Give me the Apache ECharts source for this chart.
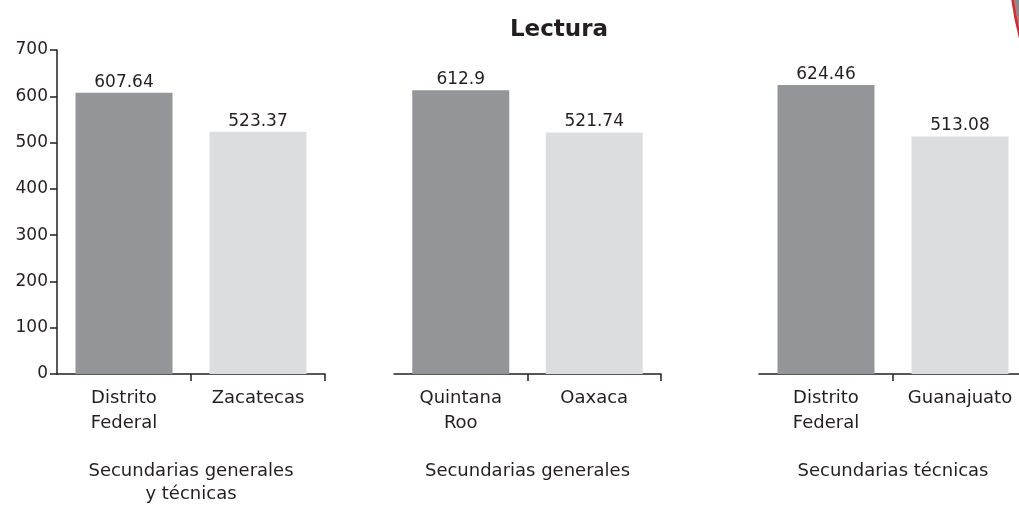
<!DOCTYPE html>
<html>
<head>
<meta charset="utf-8">
<script src="https://cdn.jsdelivr.net/npm/echarts@6/dist/echarts.min.js"></script>
<style>
  html, body { margin: 0; padding: 0; background: #fff; }
</style>
</head>
<body>
<div id="lectura" style="width: 1019px; height: 505px"></div>
<script>
// datos de la gráfica
var titulo = "Lectura";
var grupos = ["Secundarias generales\ny técnicas", "Secundarias generales", "Secundarias técnicas"];
var estados1 = ["Distrito\nFederal", "Zacatecas"];
var estados2 = ["Quintana\nRoo", "Oaxaca"];
var estados3 = ["Distrito\nFederal", "Guanajuato"];
var valores1 = [607.64, 523.37];
var valores2 = [612.9, 521.74];
var valores3 = [624.46, 513.08];
var colores = ["#939598", "#dcdddf"];

var chartDom = document.getElementById("lectura");
var myChart = echarts.init(chartDom);
var font = "DejaVu Sans";
var ink = "#231f20";

var grids = [
  { left: 57, width: 268, top: 50, bottom: 131, outerBoundsMode: "none", containLabel: false },
  { left: 394, width: 267, top: 50, bottom: 131, outerBoundsMode: "none", containLabel: false },
  { left: 759, width: 268, top: 50, bottom: 131, outerBoundsMode: "none", containLabel: false },
];

// eje de categorías (etiquetas y barras), sin marcas
function makeX(i, cats) {
  return {
    type: "category",
    gridIndex: i,
    position: "bottom",
    data: cats,
    name: grupos[i],
    nameLocation: "middle",
    nameGap: 86,
    nameTextStyle: { fontFamily: font, fontSize: 18, color: ink, lineHeight: 23 },
    axisLine: { show: true, lineStyle: { color: ink, width: 1.5 } },
    axisTick: { show: false },
    axisLabel: {
      fontFamily: font,
      fontSize: 18,
      color: ink,
      lineHeight: 25,
      margin: 12,
      interval: 0,
      hideOverlap: false,
    },
  };
}

// eje auxiliar solo para las marcas entre categorías
function makeTicks(i) {
  return {
    type: "value",
    gridIndex: i,
    position: "bottom",
    min: 0,
    max: 2,
    interval: 1,
    axisLine: { show: false },
    splitLine: { show: false },
    axisLabel: { show: false },
    axisTick: {
      show: true,
      length: 7,
      customValues: [1, 2],
      lineStyle: { color: ink, width: 1.5 },
    },
  };
}

function makeY(i) {
  return {
    type: "value",
    gridIndex: i,
    min: 0,
    max: 700,
    interval: 100,
    show: i === 0,
    splitLine: { show: false },
    axisLine: { show: true, lineStyle: { color: ink, width: 1.5 } },
    axisTick: { show: true, length: 7, lineStyle: { color: ink, width: 1.5 } },
    axisLabel: { fontFamily: font, fontSize: 17, color: ink, margin: 9, padding: [4, 0, 0, 0] },
  };
}

function makeBar(i, vals) {
  return {
    type: "bar",
    xAxisIndex: i,
    yAxisIndex: i,
    barWidth: 97,
    data: vals.map(function (v, k) {
      return { value: v, itemStyle: { color: colores[k] } };
    }),
    label: {
      show: true,
      position: "top",
      distance: 2,
      fontFamily: font,
      fontSize: 17,
      color: ink,
    },
  };
}

var option = {
  animation: false,
  backgroundColor: "#fff",
  title: {
    text: titulo,
    left: 554,
    top: 14,
    textAlign: "center",
    textStyle: { fontFamily: font, fontSize: 23, fontWeight: "bold", color: ink },
  },
  grid: grids,
  xAxis: [
    makeX(0, estados1),
    makeX(1, estados2),
    makeX(2, estados3),
    makeTicks(0),
    makeTicks(1),
    makeTicks(2),
  ],
  yAxis: [makeY(0), makeY(1), makeY(2)],
  series: [makeBar(0, valores1), makeBar(1, valores2), makeBar(2, valores3)],
  graphic: [
    {
      type: "circle",
      shape: { cx: 1314, cy: -40, r: 304 },
      style: { fill: "#8a8b8e", stroke: "#e8202a", lineWidth: 2.5 },
      silent: true,
    },
  ],
};

option && myChart.setOption(option);
</script>
</body>
</html>
